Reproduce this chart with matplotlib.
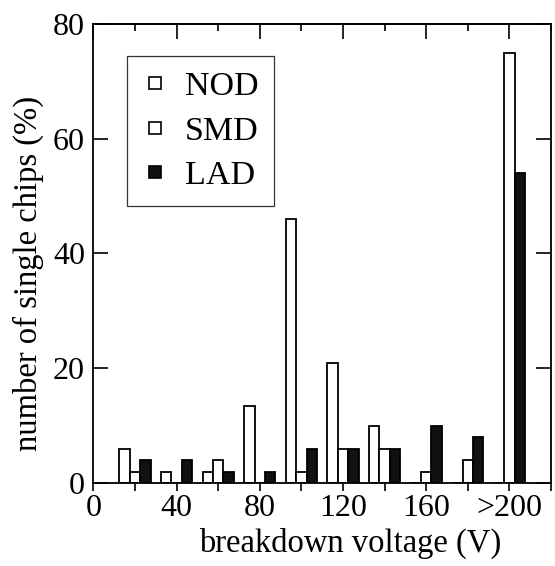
import matplotlib
matplotlib.use("Agg")
import matplotlib.pyplot as plt
from matplotlib.lines import Line2D
import numpy as np

# ---- data ----
bin_centers = [20, 40, 60, 80, 100, 120, 140, 160, 180, 200]
nod = [6, 2, 2, 13.5, 46, 21, 10, 0, 0, 0]
smd = [2, 0, 4, 0, 2, 6, 6, 2, 4, 75]
lad = [4, 4, 2, 2, 6, 6, 6, 10, 8, 54]
series_names = ["NOD", "SMD", "LAD"]
series_colors = ["white", "white", "#111111"]
x_major = [0, 40, 80, 120, 160, 200]
x_major_labels = ["0", "40", "80", "120", "160", ">200"]
x_minor = [20, 60, 100, 140, 180, 220]
y_ticks = [0, 20, 40, 60, 80]

plt.rcParams['font.family'] = ['Liberation Serif', 'DejaVu Serif']

fig = plt.figure(figsize=(5.55, 5.66), dpi=100)
ax = fig.add_axes([93.3 / 555, 1 - 483 / 566, (551 - 93.3) / 555, (483 - 24) / 566])

x = np.array(bin_centers, dtype=float)
w = 5.0
lw = 1.3
for offset, vals, name, col in zip([-w, 0, w], [nod, smd, lad], series_names, series_colors):
    ax.bar(x + offset, vals, width=w, facecolor=col, edgecolor='black', linewidth=lw, label=name)

ax.set_xlim(0, 220)
ax.set_ylim(0, 80)

for s in ax.spines.values():
    s.set_linewidth(1.3)

ax.set_xticks(x_major)
ax.set_xticklabels(x_major_labels)
ax.set_xticks(x_minor, minor=True)
ax.tick_params(axis='x', which='both', direction='out', length=5.8, width=1.2,
               top=False, labelsize=23, pad=2)

ax.set_yticks(y_ticks)
ax.tick_params(axis='y', which='major', direction='in', length=10.8, width=1.2,
               left=True, right=True, labelsize=23, pad=6)

top = ax.secondary_xaxis('top')
top.set_xticks(x_major)
top.set_xticks(x_minor, minor=True)
top.tick_params(which='major', direction='in', length=10.8, width=1.2, labeltop=False)
top.tick_params(which='minor', direction='in', length=5, width=1.2, labeltop=False)
top.set_xticklabels([])
top.spines['top'].set_linewidth(1.3)

ax.set_xlabel("breakdown voltage (V)", fontsize=23.5)
ax.xaxis.set_label_coords((350 - 93.3) / 457.7, (483 - 528) / 459)
ax.set_ylabel("number of single chips (%)", fontsize=23.5)
ax.yaxis.set_label_coords((44 - 93.3) / 457.7, (483 - 273) / 459)

handles = [Line2D([], [], linestyle='none', marker='s', markersize=8.5,
                  markerfacecolor=c, markeredgecolor='black', markeredgewidth=1.2, label=n)
           for n, c in zip(series_names, series_colors)]
leg = ax.legend(handles=handles, loc='upper left',
                bbox_to_anchor=(127 / 555, 1 - 56 / 566), bbox_transform=fig.transFigure,
                fontsize=24.5, frameon=True, fancybox=False, edgecolor='black',
                handlelength=0.73, handletextpad=0.52,
                labelspacing=0.4, borderpad=0.45, borderaxespad=0)
leg.get_frame().set_linewidth(0.9)

fig.savefig("out.png", dpi=100)
